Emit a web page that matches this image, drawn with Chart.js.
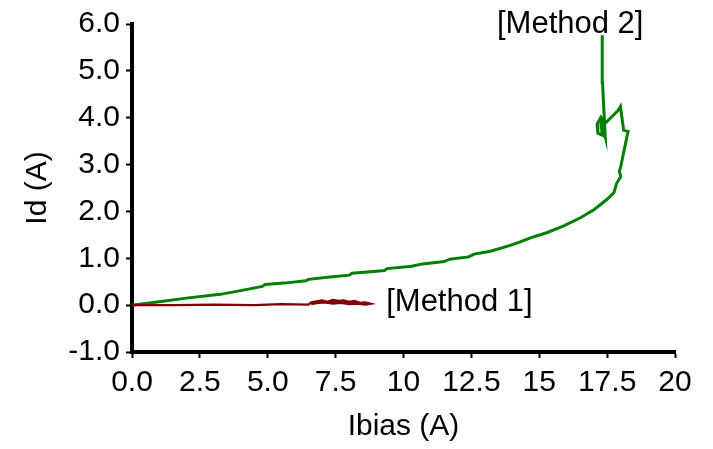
<!DOCTYPE html>
<html>
<head>
<meta charset="utf-8">
<script src="https://cdn.jsdelivr.net/npm/chart.js@4/dist/chart.umd.min.js"></script>
<style>
  html, body { margin: 0; padding: 0; background: #fff; }
  #wrap { width: 713px; height: 449px; }
</style>
</head>
<body>
<div id="wrap"><canvas id="graficoIdIbias" width="713" height="449"></canvas></div>
<script>
// Method 1 (Ibias, Id)
var metodo1X = [0, 1.5, 3, 4.5, 5.5, 6.5, 6.6, 6.8, 7.0, 7.2, 7.4, 7.6, 7.8, 8.0, 8.2, 8.4, 8.6, 8.8,
  8.6, 8.3, 8.0, 7.7, 7.4, 7.1, 6.8, 6.6, 6.9, 7.3, 7.7, 8.1, 8.5, 8.7];
var metodo1Y = [0, 0, 0.01, 0, 0.02, 0.01, 0.06, 0.08, 0.1, 0.07, 0.11, 0.09, 0.1, 0.07, 0.09, 0.05, 0.06, 0.03,
  0.01, 0.03, 0.02, 0.05, 0.03, 0.06, 0.04, 0.02, 0.08, 0.06, 0.08, 0.05, 0.04, 0.02];

// Method 2 (Ibias, Id)
var metodo2X = [0, 1, 2, 3.25, 4, 4.8, 4.9, 5.6, 6.4, 6.5, 7.3, 8, 8.1, 8.9, 9.3, 9.4, 10.3, 10.7, 11.5, 11.7,
  12.4, 12.6, 13.2, 13.9, 14.3, 14.7, 15.3, 15.9, 16.5, 17.0, 17.5, 17.75, 17.85, 18.0, 17.95, 18.0, 18.27,
  18.11, 17.99, 17.9, 17.41, 17.27, 17.13, 17.16, 17.32, 17.27, 17.43, 17.33, 17.32];
var metodo2Y = [0, 0.07, 0.15, 0.23, 0.31, 0.4, 0.44, 0.47, 0.52, 0.55, 0.6, 0.64, 0.68, 0.72, 0.74, 0.78, 0.83, 0.88, 0.93, 0.98,
  1.03, 1.09, 1.15, 1.27, 1.35, 1.44, 1.55, 1.69, 1.86, 2.03, 2.26, 2.4, 2.6, 2.74, 2.86, 2.95, 3.71,
  3.73, 4.24, 4.15, 3.87, 4.01, 3.86, 3.67, 3.63, 3.95, 3.59, 4.75, 5.76];

var xTickLabels = ['0.0', '2.5', '5.0', '7.5', '10', '12.5', '15', '17.5', '20'];
var yTickLabels = ['-1.0', '0.0', '1.0', '2.0', '3.0', '4.0', '5.0', '6.0'];

var notasTexto = ['[Method 1]', '[Method 2]'];
var notasX = [12.06, 16.14];
var notasY = [0.06, 6.0];

var FONTE = '"Liberation Sans", Arial, sans-serif';

function pares(xs, ys) {
  return xs.map(function (x, i) {
    return { x: x, y: ys[i] };
  });
}

var pluginNotas = {
  id: 'notas',
  afterDatasetsDraw: function (chart) {
    var ctx = chart.ctx;
    var sx = chart.scales.x, sy = chart.scales.y;
    ctx.save();
    ctx.font = '31px ' + FONTE;
    ctx.fillStyle = '#000';
    ctx.textAlign = 'center';
    ctx.textBaseline = 'middle';
    notasTexto.forEach(function (t, i) {
      ctx.fillText(t, sx.getPixelForValue(notasX[i]), sy.getPixelForValue(notasY[i]));
    });
    ctx.restore();
  }
};

Chart.defaults.font.family = FONTE;
Chart.defaults.color = '#000';

var grafico = new Chart(document.getElementById('graficoIdIbias').getContext('2d'), {
  type: 'scatter',
  data: {
    datasets: [{
      label: 'Method 1',
      data: pares(metodo1X, metodo1Y),
      showLine: true,
      borderColor: '#800000',
      borderWidth: 2.2,
      pointRadius: 0,
      tension: 0,
      order: 0
    },
    {
      label: 'Method 2',
      data: pares(metodo2X, metodo2Y),
      showLine: true,
      borderColor: '#008000',
      borderWidth: 3,
      pointRadius: 0,
      tension: 0,
      order: 1
    }]
  },
  options: {
    responsive: false,
    animation: false,
    layout: { padding: { top: 21, right: 38, left: 0, bottom: 0 } },
    plugins: { legend: { display: false }, tooltip: { enabled: false } },
    scales: {
      x: {
        type: 'linear',
        min: 0,
        max: 20,
        afterFit: function (s) { s.height = 97; },
        ticks: {
          stepSize: 2.5,
          padding: 7,
          maxRotation: 0,
          autoSkip: false,
          font: { size: 30 },
          callback: function (v) { return xTickLabels[Math.round(v / 2.5)]; }
        },
        grid: { drawOnChartArea: false, drawTicks: true, tickLength: 6, tickWidth: 2, tickColor: '#000' },
        border: { display: true, color: '#000', width: 4 },
        title: { display: true, text: 'Ibias (A)', font: { size: 30 }, padding: { top: 4 } }
      },
      y: {
        type: 'linear',
        min: -1,
        max: 6,
        afterFit: function (s) { s.width = 132; },
        ticks: {
          stepSize: 1,
          padding: 6,
          font: { size: 30 },
          callback: function (v) { return yTickLabels[Math.round(v + 1)]; }
        },
        grid: { drawOnChartArea: false, drawTicks: true, tickLength: 6, tickWidth: 2, tickColor: '#000' },
        border: { display: true, color: '#000', width: 4 },
        title: { display: true, text: 'Id (A)', font: { size: 30 }, padding: { top: 20, bottom: 4 } }
      }
    }
  },
  plugins: [pluginNotas]
});
</script>
</body>
</html>
